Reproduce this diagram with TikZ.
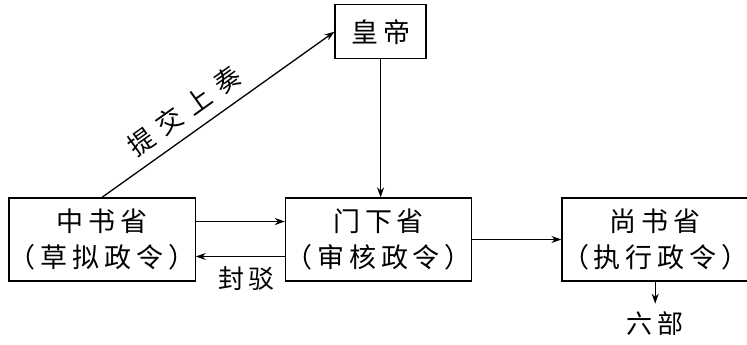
\documentclass[tikz,border=0pt]{standalone}
\usepackage{fontspec}
\newfontfamily\cjk{Noto Sans CJK SC}[LetterSpace=18]
\newfontfamily\cjkwide{Noto Sans CJK SC}[LetterSpace=35]
\usetikzlibrary{arrows.meta,positioning}

\begin{document}
\begin{tikzpicture}[x=1pt,y=-1pt,
  office/.style={draw, minimum width=185pt, minimum height=83pt, align=center, font=\cjk\fontsize{27}{36}\selectfont, line width=1.3pt, inner sep=0pt},
  ruler/.style={office, minimum width=91pt, minimum height=54pt},
  lbl/.style={font=\cjk\fontsize{26}{30}\selectfont, inner sep=1pt},
  arr/.style={-{Stealth[length=10pt,width=7pt]}, line width=1.3pt}
]
  \useasboundingbox (0,0) rectangle (747,345);
  \node[office] (zhongshu) at (102,239.5) {中书省\\（草拟政令）};
  \node[office, right=89pt of zhongshu] (menxia) {门下省\\（审核政令）};
  \node[office, right=89pt of menxia] (shangshu) {尚书省\\（执行政令）};
  \node[ruler, above=138pt of menxia, xshift=2pt] (emperor) {皇帝};
  \node[lbl, below=22pt of shangshu, inner sep=8pt] (liubu) {六部};

  \draw[arr] (zhongshu.north) -- node[lbl, font=\cjkwide\fontsize{26}{30}\selectfont, sloped, above=9pt, pos=0.41] {提交上奏} (emperor.west);
  \draw[arr] (emperor) -- (emperor |- menxia.north);
  \draw[arr] ([yshift=18pt]zhongshu.east) -- ([yshift=18pt]menxia.west);
  \draw[arr] ([yshift=-17pt]menxia.west) -- node[lbl, below=9pt, pos=0.43] {封驳} ([yshift=-17pt]zhongshu.east);
  \draw[arr] (menxia) -- (shangshu);
  \draw[arr] (shangshu) -- (liubu);
\end{tikzpicture}
\end{document}
